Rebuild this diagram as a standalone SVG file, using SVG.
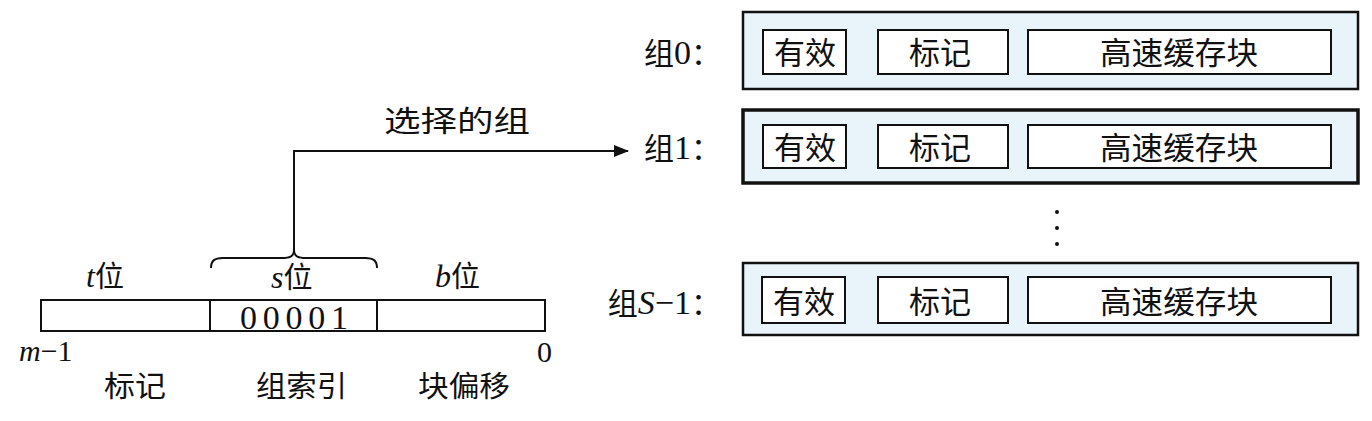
<svg xmlns="http://www.w3.org/2000/svg" width="1372" height="421" viewBox="0 0 1372 421">
<defs>
<style>
.t{font-family:"Liberation Serif","Noto Sans CJK SC",serif;fill:#111;}
.cj{font-family:"Liberation Serif","Noto Sans CJK SC",serif;fill:#111;font-size:29px;}
.in{font-family:"Noto Sans CJK SC",sans-serif;fill:#111;font-size:31px;text-anchor:middle;}
.set{fill:#e9f4fa;stroke:#111;stroke-width:2.5;}
.sel{stroke-width:3.5;}
.cell{fill:#fff;stroke:#111;stroke-width:2;}
.bar{fill:#fff;stroke:#111;stroke-width:2;}
.ln{fill:none;stroke:#111;stroke-width:2;}
.lat{font-size:34px;}
</style>
<marker id="ah" markerWidth="15" markerHeight="12" refX="14" refY="6" orient="auto" markerUnits="userSpaceOnUse">
<path d="M0,0 L15,6 L0,12 Z" fill="#111"/>
</marker>
</defs>
<rect width="1372" height="421" fill="#fff"/>

<g id="address">
<rect class="bar" x="41" y="300" width="504" height="31"/>
<line class="ln" x1="210" y1="300" x2="210" y2="331"/>
<line class="ln" x1="377" y1="300" x2="377" y2="331"/>
<text class="t" x="240" y="329" font-size="34" textLength="108" lengthAdjust="spacing">00001</text>
<text class="t" x="86" y="287" font-size="29"><tspan font-style="italic" font-size="32">t</tspan>位</text>
<text class="t" x="271" y="288" font-size="29"><tspan font-style="italic" font-size="32">s</tspan>位</text>
<text class="t" x="435" y="287" font-size="29"><tspan font-style="italic" font-size="32">b</tspan>位</text>
<text class="t" x="19" y="361" font-size="30"><tspan font-style="italic">m</tspan>−1</text>
<text class="t" x="537" y="362" font-size="30">0</text>
<text class="cj" x="104" y="397" textLength="62" lengthAdjust="spacingAndGlyphs">标记</text>
<text class="cj" x="256" y="397" textLength="91" lengthAdjust="spacingAndGlyphs">组索引</text>
<text class="cj" x="418" y="397" textLength="92" lengthAdjust="spacingAndGlyphs">块偏移</text>
</g>

<g id="connectors">
<path class="ln" d="M211,268 C211,261 214,258 223,258 L282,258 C289,258 294,257 294,250 C294,257 299,258 306,258 L365,258 C374,258 377,261 377,268"/>
<path class="ln" d="M294,250 L294,151 L628,151" marker-end="url(#ah)"/>
<text class="cj" x="384" y="132" textLength="146" lengthAdjust="spacingAndGlyphs">选择的组</text>
</g>

<g id="set0">
<text class="t" x="721" y="64" font-size="30" text-anchor="end">组<tspan class="lat">0</tspan>：</text>
<rect class="set" x="743" y="12" width="615" height="77"/>
<rect class="cell" x="763" y="30" width="83" height="44"/>
<rect class="cell" x="878" y="30" width="130" height="44"/>
<rect class="cell" x="1028" y="30" width="303" height="44"/>
<text class="in" x="805" y="64">有效</text>
<text class="in" x="940" y="64">标记</text>
<text class="in" x="1179" y="64" textLength="158" lengthAdjust="spacingAndGlyphs">高速缓存块</text>
</g>

<g id="set1">
<text class="t" x="721" y="159" font-size="30" text-anchor="end">组<tspan class="lat">1</tspan>：</text>
<rect class="set sel" x="743" y="110" width="615" height="73"/>
<rect class="cell" x="763" y="125" width="83" height="43"/>
<rect class="cell" x="878" y="125" width="130" height="43"/>
<rect class="cell" x="1028" y="125" width="303" height="43"/>
<text class="in" x="805" y="159">有效</text>
<text class="in" x="940" y="159">标记</text>
<text class="in" x="1179" y="159" textLength="158" lengthAdjust="spacingAndGlyphs">高速缓存块</text>
</g>

<g id="ellipsis">
<circle cx="1057" cy="212" r="2" fill="#111"/>
<circle cx="1057" cy="228" r="2" fill="#111"/>
<circle cx="1057" cy="244" r="2" fill="#111"/>
</g>

<g id="setS1">
<text class="t" x="721" y="314" font-size="30" text-anchor="end">组<tspan class="lat" font-style="italic">S</tspan><tspan class="lat">−1</tspan>：</text>
<rect class="set" x="743" y="263" width="615" height="72"/>
<rect class="cell" x="762" y="277" width="83" height="46"/>
<rect class="cell" x="878" y="277" width="130" height="46"/>
<rect class="cell" x="1028" y="277" width="303" height="46"/>
<text class="in" x="804" y="313">有效</text>
<text class="in" x="940" y="313">标记</text>
<text class="in" x="1179" y="313" textLength="158" lengthAdjust="spacingAndGlyphs">高速缓存块</text>
</g>
</svg>
